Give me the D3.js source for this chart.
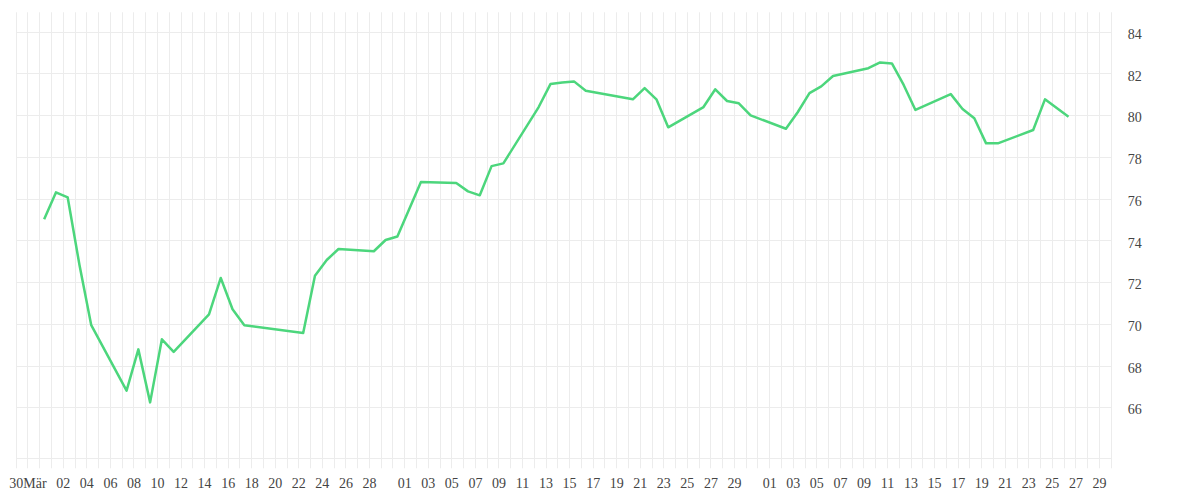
<!DOCTYPE html>
<html>
<head>
<meta charset="utf-8">
<script src="https://cdn.jsdelivr.net/npm/d3@7"></script>
<style>
  html, body { margin: 0; padding: 0; background: #fff; }
  svg { display: block; }
  text { font-family: "Liberation Serif", "Times New Roman", serif; font-size: 14px; fill: #444; }
</style>
</head>
<body>
<svg id="chart" width="1200" height="500"></svg>
<script>
// ---- data ----
const dates = [
  "2025-03-31","2025-04-01","2025-04-02","2025-04-03","2025-04-04",
  "2025-04-07","2025-04-08","2025-04-09","2025-04-10","2025-04-11",
  "2025-04-14","2025-04-15","2025-04-16","2025-04-17",
  "2025-04-22","2025-04-23","2025-04-24","2025-04-25",
  "2025-04-28","2025-04-29","2025-04-30","2025-05-02",
  "2025-05-05","2025-05-06","2025-05-07","2025-05-08","2025-05-09",
  "2025-05-12","2025-05-13","2025-05-14","2025-05-15","2025-05-16",
  "2025-05-20","2025-05-21","2025-05-22","2025-05-23",
  "2025-05-26","2025-05-27","2025-05-28","2025-05-29","2025-05-30",
  "2025-06-02","2025-06-03","2025-06-04","2025-06-05","2025-06-06",
  "2025-06-09","2025-06-10","2025-06-11","2025-06-12","2025-06-13",
  "2025-06-16","2025-06-17","2025-06-18","2025-06-19","2025-06-20",
  "2025-06-23","2025-06-24","2025-06-26"
];
const values = [
  75.01, 76.30, 76.06, 72.82, 69.94,
  66.80, 68.78, 66.24, 69.26, 68.66,
  70.46, 72.20, 70.70, 69.94,
  69.56, 72.31, 73.06, 73.59,
  73.48, 74.02, 74.19, 76.80,
  76.75, 76.35, 76.16, 77.56, 77.69,
  80.39, 81.49, 81.57, 81.62, 81.17,
  80.76, 81.30, 80.76, 79.42,
  80.39, 81.24, 80.68, 80.57, 79.99,
  79.35, 80.14, 81.06, 81.38, 81.88,
  82.25, 82.53, 82.48, 81.45, 80.25,
  81.01, 80.30, 79.85, 78.65, 78.65,
  79.29, 80.76, 79.93
];
const yTicks = [66, 68, 70, 72, 74, 76, 78, 80, 82, 84];
const xTickDates = [
  "2025-03-30","2025-04-02","2025-04-04","2025-04-06","2025-04-08","2025-04-10",
  "2025-04-12","2025-04-14","2025-04-16","2025-04-18","2025-04-20","2025-04-22",
  "2025-04-24","2025-04-26","2025-04-28",
  "2025-05-01","2025-05-03","2025-05-05","2025-05-07","2025-05-09","2025-05-11",
  "2025-05-13","2025-05-15","2025-05-17","2025-05-19","2025-05-21","2025-05-23",
  "2025-05-25","2025-05-27","2025-05-29",
  "2025-06-01","2025-06-03","2025-06-05","2025-06-07","2025-06-09","2025-06-11",
  "2025-06-13","2025-06-15","2025-06-17","2025-06-19","2025-06-21","2025-06-23",
  "2025-06-25","2025-06-27","2025-06-29"
];
const xTickLabels = [
  "30Mär","02","04","06","08","10","12","14","16","18","20","22","24","26","28",
  "01","03","05","07","09","11","13","15","17","19","21","23","25","27","29",
  "01","03","05","07","09","11","13","15","17","19","21","23","25","27","29"
];
const domainStart = "2025-03-29";
const domainEnd = "2025-06-30";
const yDomain = [63.56, 84.93];

// ---- helpers ----
function parseDay(s, h) {
  const p = s.split("-").map(Number);
  return new Date(p[0], p[1] - 1, p[2], h || 0);
}

const plotLeft = 15.7, plotRight = 1110.7, plotTop = 12.3, plotBottom = 458.3;
const svg = d3.select("#chart");

const x = d3.scaleTime()
  .domain([parseDay(domainStart), parseDay(domainEnd)])
  .range([plotLeft, plotRight]);
const y = d3.scaleLinear().domain(yDomain).range([plotBottom, plotTop]);

const gridColor = "#ececec";
const crisp = v => Math.round(v) + 0.5;

// vertical daily grid lines (extend 10px below the plot)
const days = d3.timeDay.range(parseDay(domainStart), d3.timeDay.offset(parseDay(domainEnd), 1));
svg.append("g").selectAll("line").data(days).join("line")
  .attr("x1", d => crisp(x(d))).attr("x2", d => crisp(x(d)))
  .attr("y1", plotTop).attr("y2", plotBottom + 10)
  .attr("stroke", gridColor).attr("stroke-width", 1);

// horizontal grid lines
svg.append("g").selectAll("line").data(yTicks).join("line")
  .attr("x1", crisp(plotLeft)).attr("x2", crisp(plotRight))
  .attr("y1", d => crisp(y(d))).attr("y2", d => crisp(y(d)))
  .attr("stroke", gridColor).attr("stroke-width", 1);

// bottom baseline
svg.append("line")
  .attr("x1", crisp(plotLeft)).attr("x2", crisp(plotRight))
  .attr("y1", crisp(plotBottom)).attr("y2", crisp(plotBottom))
  .attr("stroke", gridColor).attr("stroke-width", 1);

// x axis labels
const tickDateObjs = xTickDates.map(s => parseDay(s));
const xAxis = d3.axisBottom(x)
  .tickValues(tickDateObjs)
  .tickSize(0)
  .tickPadding(20)
  .tickFormat((d, i) => xTickLabels[i]);
const gx = svg.append("g").attr("transform", `translate(0,${plotBottom})`).call(xAxis);
gx.select(".domain").remove();
gx.selectAll("text").attr("fill", "#444").style("font-family", "'Liberation Serif', serif").style("font-size", "14px");

// y axis labels (right)
const yAxis = d3.axisRight(y).tickValues(yTicks).tickSize(0).tickPadding(17).tickFormat(d3.format("d"));
const gy = svg.append("g").attr("transform", `translate(${plotRight},0)`).call(yAxis);
gy.select(".domain").remove();
gy.selectAll("text").attr("dy", "0.47em").attr("fill", "#444")
  .style("font-family", "'Liberation Serif', serif").style("font-size", "14px");

// line
const pts = dates.map((s, i) => ({ d: parseDay(s, 10), v: values[i] }));
const line = d3.line().x(p => x(p.d)).y(p => y(p.v));
svg.append("path").datum(pts)
  .attr("d", line)
  .attr("fill", "none")
  .attr("stroke", "#4cd67c")
  .attr("stroke-width", 2.5)
  .attr("stroke-linejoin", "round")
  .attr("stroke-linecap", "butt");
</script>
</body>
</html>
